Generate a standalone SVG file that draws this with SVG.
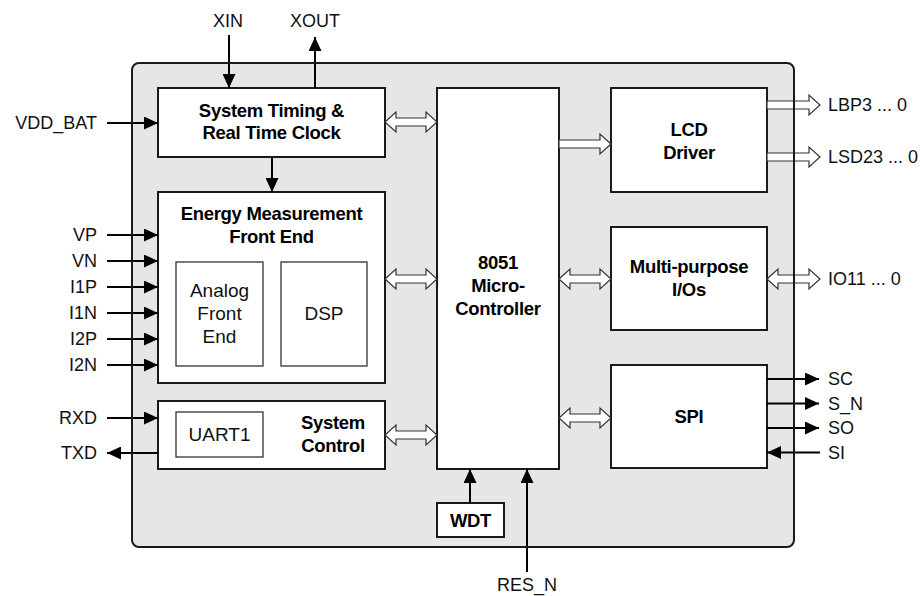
<svg xmlns="http://www.w3.org/2000/svg" width="922" height="596" viewBox="0 0 922 596">
<defs>
<marker id="ah" markerUnits="userSpaceOnUse" markerWidth="15" markerHeight="13" refX="14" refY="6.5" orient="auto">
<path d="M0,0 L14,6.5 L0,13 z" fill="#000"/>
</marker>
<style>
.blk{fill:#fff;stroke:#1a1a1a;stroke-width:2}
.inner{fill:#fff;stroke:#333;stroke-width:1.3}
.ln{stroke:#000;stroke-width:2;fill:none;marker-end:url(#ah)}
.bus{fill:#fff;stroke:#333;stroke-width:1.2;stroke-linejoin:miter}
.t{font-family:"Liberation Sans",Arial,sans-serif;font-size:18px;fill:#111}
.b{font-family:"Liberation Sans",Arial,sans-serif;font-size:18.5px;font-weight:bold;fill:#000;text-anchor:middle;letter-spacing:-0.3px}
.r{font-family:"Liberation Sans",Arial,sans-serif;font-size:19px;fill:#111;text-anchor:middle}
.e{text-anchor:end}
.m{text-anchor:middle}
</style>
</defs>
<g id="chip">
<rect x="132" y="63" width="662" height="484" rx="7" fill="#e6e6e6"/>
</g>
<g id="timing">
<rect class="blk" x="158" y="88" width="227" height="69"/>
<text class="b" x="271.5" y="117">System Timing &amp;</text>
<text class="b" x="271.5" y="139">Real Time Clock</text>
</g>
<g id="energy">
<rect class="blk" x="158" y="192" width="227" height="191"/>
<text class="b" x="271.5" y="220">Energy Measurement</text>
<text class="b" x="271.5" y="243">Front End</text>
</g>
<g id="afe">
<rect class="inner" x="176" y="262" width="87" height="104"/>
<text class="r" x="219.5" y="297">Analog</text>
<text class="r" x="219.5" y="320">Front</text>
<text class="r" x="219.5" y="343">End</text>
</g>
<g id="dsp">
<rect class="inner" x="281" y="262" width="86" height="104"/>
<text class="r" x="324" y="320">DSP</text>
</g>
<g id="sysctl">
<rect class="blk" x="158" y="401" width="227" height="68"/>
<text class="b" x="333" y="429">System</text>
<text class="b" x="333" y="452">Control</text>
</g>
<g id="uart1">
<rect class="inner" x="176" y="412" width="87" height="45"/>
<text class="r" x="219.5" y="441">UART1</text>
</g>
<g id="mcu">
<rect class="blk" x="437" y="88" width="122" height="381"/>
<text class="b" x="498" y="269">8051</text>
<text class="b" x="498" y="292">Micro-</text>
<text class="b" x="498" y="315">Controller</text>
</g>
<g id="lcd">
<rect class="blk" x="611" y="88" width="156" height="104"/>
<text class="b" x="689" y="136">LCD</text>
<text class="b" x="689" y="159">Driver</text>
</g>
<g id="mpio">
<rect class="blk" x="611" y="227" width="156" height="103"/>
<text class="b" x="689" y="273">Multi-purpose</text>
<text class="b" x="689" y="296">I/Os</text>
</g>
<g id="spi">
<rect class="blk" x="611" y="365" width="156" height="103"/>
<text class="b" x="689" y="423">SPI</text>
</g>
<g id="wdt">
<rect class="blk" x="437" y="503" width="67" height="34"/>
<text class="b" x="470.5" y="527">WDT</text>
</g>
<g id="connectors">
<line class="ln" x1="229" y1="35" x2="229" y2="88"/>
<line class="ln" x1="315" y1="88" x2="315" y2="37"/>
<line class="ln" x1="107" y1="123" x2="158" y2="123"/>
<line class="ln" x1="272" y1="157" x2="272" y2="192"/>
<line class="ln" x1="107" y1="235" x2="158" y2="235"/>
<line class="ln" x1="107" y1="261" x2="158" y2="261"/>
<line class="ln" x1="107" y1="287" x2="158" y2="287"/>
<line class="ln" x1="107" y1="313" x2="158" y2="313"/>
<line class="ln" x1="107" y1="339" x2="158" y2="339"/>
<line class="ln" x1="107" y1="365" x2="158" y2="365"/>
<line class="ln" x1="107" y1="418" x2="158" y2="418"/>
<line class="ln" x1="158" y1="453" x2="107" y2="453"/>
<line class="ln" x1="767" y1="379" x2="819" y2="379"/>
<line class="ln" x1="767" y1="403.5" x2="819" y2="403.5"/>
<line class="ln" x1="767" y1="428" x2="819" y2="428"/>
<line class="ln" x1="820" y1="452.5" x2="767" y2="452.5"/>
<line class="ln" x1="470" y1="503" x2="470" y2="469"/>
<line class="ln" x1="527" y1="572" x2="527" y2="469"/>
<path class="bus" d="M385,122 L396,112 L396,118 L426,118 L426,112 L437,122 L426,132 L426,126 L396,126 L396,132 Z"/>
<path class="bus" d="M385,279 L396,269 L396,275 L426,275 L426,269 L437,279 L426,289 L426,283 L396,283 L396,289 Z"/>
<path class="bus" d="M385,435 L396,425 L396,431 L426,431 L426,425 L437,435 L426,445 L426,439 L396,439 L396,445 Z"/>
<path class="bus" d="M559,279 L570,269 L570,275 L600,275 L600,269 L611,279 L600,289 L600,283 L570,283 L570,289 Z"/>
<path class="bus" d="M559,418 L570,408 L570,414 L600,414 L600,408 L611,418 L600,428 L600,422 L570,422 L570,428 Z"/>
<path class="bus" d="M559,140 L600,140 L600,134 L611,144 L600,154 L600,148 L559,148 Z"/>
<path class="bus" d="M767,101 L809,101 L809,95 L820,105 L809,115 L809,109 L767,109 Z"/>
<path class="bus" d="M767,153 L809,153 L809,147 L820,157 L809,167 L809,161 L767,161 Z"/>
<path class="bus" d="M767,279 L778,269 L778,275 L809,275 L809,269 L820,279 L809,289 L809,283 L778,283 L778,289 Z"/>
</g>
<g id="chip-border">
<rect x="132" y="63" width="662" height="484" rx="7" fill="none" stroke="#1a1a1a" stroke-width="2"/>
</g>
<g id="labels">
<text class="t m" x="228" y="27">XIN</text>
<text class="t m" x="315" y="27">XOUT</text>
<text class="t e" x="97" y="129">VDD_BAT</text>
<text class="t e" x="97" y="241">VP</text>
<text class="t e" x="97" y="267">VN</text>
<text class="t e" x="97" y="293">I1P</text>
<text class="t e" x="97" y="319">I1N</text>
<text class="t e" x="97" y="345">I2P</text>
<text class="t e" x="97" y="371">I2N</text>
<text class="t e" x="97" y="424">RXD</text>
<text class="t e" x="97" y="459">TXD</text>
<text class="t" x="828" y="111">LBP3 ... 0</text>
<text class="t" x="828" y="163">LSD23 ... 0</text>
<text class="t" x="828" y="285">IO11 ... 0</text>
<text class="t" x="828" y="385">SC</text>
<text class="t" x="828" y="410">S_N</text>
<text class="t" x="828" y="434">SO</text>
<text class="t" x="828" y="459">SI</text>
<text class="t m" x="527" y="591">RES_N</text>
</g>
</svg>
